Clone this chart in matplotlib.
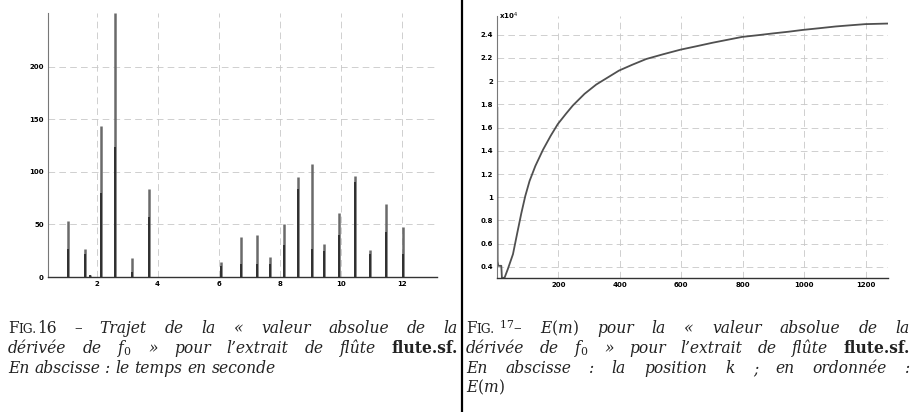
import matplotlib
matplotlib.use("Agg")
import matplotlib.pyplot as plt
from matplotlib.lines import Line2D
from matplotlib.ticker import FuncFormatter

# Fig. 16 : |d f0 / dt| spikes (time in s, value)
spike_t = [1.07, 1.62, 1.80, 2.16, 2.60, 3.17, 3.71, 6.06, 6.73, 7.24, 7.68,
           8.13, 8.59, 9.05, 9.46, 9.94, 10.47, 10.94, 11.47, 12.05]
spike_h = [53, 27, 2, 144, 251, 18, 84, 14, 38, 40, 19,
           50, 95, 107, 31, 61, 96, 26, 69, 48]
spike_inner = [27, 22, 2, 80, 124, 5, 57, 10, 12, 12, 12,
               30, 84, 27, 25, 40, 90, 22, 43, 22]

# Fig. 17 : E(m)
m_pos = [1, 2, 4, 8, 14, 16, 20, 25, 35, 52, 65, 79, 92, 106, 125, 150, 175,
         198, 225, 247, 285, 323, 360, 397, 440, 486, 540, 597, 650, 702, 750,
         798, 850, 898, 950, 995, 1050, 1103, 1150, 1199, 1272]
E_vals = [17700, 4500, 4100, 4100, 4100, 3050, 3050, 3100, 3800, 5100, 6800,
          8600, 10100, 11400, 12700, 14100, 15300, 16300, 17200, 17900, 18900,
          19700, 20300, 20900, 21400, 21900, 22300, 22700, 23000, 23300, 23550,
          23800, 23950, 24100, 24250, 24400, 24550, 24700, 24800, 24900, 24950]

left_xticks = [2, 4, 6, 8, 10, 12]
left_yticks = [0, 50, 100, 150, 200]
right_xticks = [200, 400, 600, 800, 1000, 1200]
right_yticks = [4000, 6000, 8000, 10000, 12000, 14000, 16000, 18000, 20000, 22000, 24000]

W, H = 912, 412
fig = plt.figure(figsize=(W / 100, H / 100), dpi=100)

grid_kw = dict(color="#c8c8c8", linestyle=(0, (8, 5)), linewidth=0.6)
tick_kw = dict(labelsize=5, length=0, pad=3, colors="black")


def style_axes(ax):
    for s in ["top", "right"]:
        ax.spines[s].set_visible(False)
    ax.spines["left"].set_color("#777777")
    ax.spines["bottom"].set_color("#333333")
    ax.spines["left"].set_linewidth(0.8)
    ax.spines["bottom"].set_linewidth(1.0)
    ax.grid(True, **grid_kw)
    ax.set_axisbelow(True)
    ax.tick_params(**tick_kw)
    for lab in ax.get_xticklabels() + ax.get_yticklabels():
        lab.set_fontweight("bold")


# left chart
ax1 = fig.add_axes([48 / W, 1 - 277 / H, 389 / W, 264 / H])
ax1.vlines(spike_t, 0, spike_h, color="#6a6a6a", linewidth=1.8)
ax1.vlines(spike_t, 0, spike_inner, color="#2a2a2a", linewidth=1.3)
ax1.set_xlim(0.41, 13.15)
ax1.set_ylim(0, 251)
ax1.set_xticks(left_xticks)
ax1.set_yticks(left_yticks)
style_axes(ax1)

# right chart
ax2 = fig.add_axes([497 / W, 1 - 278 / H, 391 / W, 262 / H])
ax2.plot(m_pos, E_vals, color="#505050", linewidth=1.3)
ax2.set_xlim(0, 1273)
ax2.set_ylim(3050, 25600)
ax2.set_xticks(right_xticks)
ax2.set_yticks(right_yticks)
ax2.yaxis.set_major_formatter(FuncFormatter(lambda v, p: "%g" % (v / 1e4)))
style_axes(ax2)
fig.text(499 / W, 1 - 19 / H, r"x$\mathbf{10}^{4}$", fontsize=5, fontweight="bold")

# separator
fig.add_artist(Line2D([462.5 / W, 462.5 / W], [0, 1], color="black", linewidth=1.6))

# captions, justified word by word
plt.rcParams["mathtext.fontset"] = "dejavuserif"
fs = 11.2
it = dict(family="DejaVu Serif", style="italic", fontsize=fs)
rm = dict(family="DejaVu Serif", fontsize=fs)
sc = dict(family="DejaVu Serif", fontsize=fs * 0.78)
bf = dict(family="DejaVu Serif", fontweight="bold", fontsize=fs)

renderer = fig.canvas.get_renderer()


def place_line(words, x0, x1, y, justify=True):
    placed = []
    widths = []
    for w in words:
        parts = []
        tot = 0
        for s, kw in w:
            t = fig.text(0, 1 - y / H, s, va="baseline", color="#222222", **kw)
            bw = t.get_window_extent(renderer).width
            parts.append((t, bw))
            tot += bw
        placed.append(parts)
        widths.append(tot)
    if justify and len(words) > 1:
        gap = (x1 - x0 - sum(widths)) / (len(words) - 1)
    else:
        gap = 5
    x = x0
    for parts in placed:
        for t, bw in parts:
            t.set_x(x / W)
            x += bw
        x += gap


def italic_words(s):
    return [[(w, it)] for w in s.split()]


fig_word = [("F", rm), ("IG.", sc)]

# left caption
place_line([fig_word + [("16", rm)], [("–", rm)]] + italic_words("Trajet de la « valeur absolue de la"),
           8, 458, 333)
place_line(italic_words("dérivée de") + [[(r"$f_0$", it)]]
           + italic_words("» pour l’extrait de flûte") + [[("flute.sf.", bf)]],
           8, 458, 353)
place_line(italic_words("En abscisse : le temps en seconde"), 8, 458, 373, justify=False)

# right caption
place_line([fig_word + [(" ", sc), ("$^{17}$", rm), ("–", rm)], [(r"$E(m)$", it)]]
           + italic_words("pour la « valeur absolue de la"),
           466, 910, 333)
place_line(italic_words("dérivée de") + [[(r"$f_0$", it)]]
           + italic_words("» pour l’extrait de flûte") + [[("flute.sf.", bf)]],
           466, 910, 353)
place_line(italic_words("En abscisse : la position") + [[(r"$k$", it)]]
           + italic_words("; en ordonnée :"), 466, 910, 373)
place_line([[(r"$E(m)$", it)]], 466, 910, 392, justify=False)

fig.savefig("out.png", dpi=100)
